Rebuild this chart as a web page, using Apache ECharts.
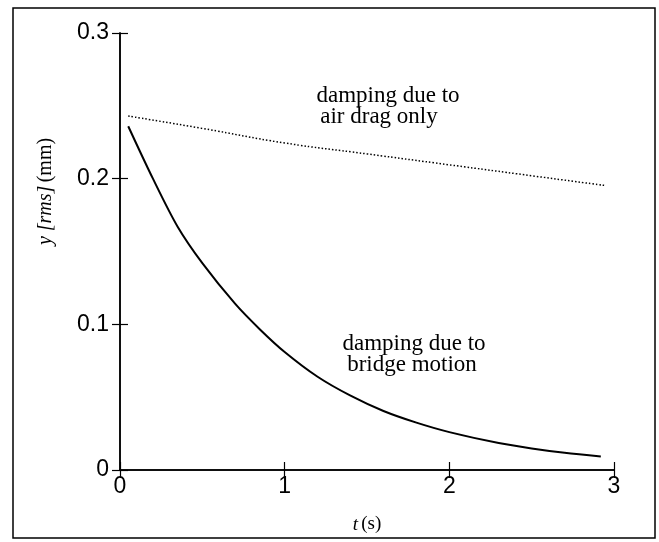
<!DOCTYPE html>
<html>
<head>
<meta charset="utf-8">
<script src="https://cdn.jsdelivr.net/npm/echarts@6/dist/echarts.min.js"></script>
<style>
html,body{margin:0;padding:0;background:#fff;}
#c{width:659px;height:542px;}
</style>
</head>
<body>
<div id="c"></div>
<script>
// time (s) and rms amplitude (mm)
var airT = [0.05, 0.5, 1.0, 1.5, 2.0, 2.5, 2.94];
var airY = [0.243, 0.2345, 0.2245, 0.217, 0.2095, 0.202, 0.1954];

var bridgeT = [0.05, 0.2, 0.35, 0.5, 0.7, 0.85, 1.0, 1.2, 1.4, 1.6, 1.8, 2.0, 2.3, 2.5, 2.7, 2.92];
var bridgeY = [0.236, 0.2, 0.167, 0.142, 0.114, 0.0965, 0.081, 0.064, 0.051, 0.0405, 0.0325, 0.026, 0.0185, 0.0148, 0.0118, 0.0092];

var xTicks = [0, 1, 2, 3];
var yTicks = [0, 0.1, 0.2, 0.3];

function pairs(xs, ys){ return xs.map(function(x,i){ return [x, ys[i]]; }); }

var chart = echarts.init(document.getElementById('c'));
var axisLineStyle = {color:'#000', width:1.5};
var sans = '"Liberation Sans", Arial, sans-serif';
var serif = '"Liberation Serif", "Times New Roman", serif';
var tickStyle = {show:true, inside:true, length:8, lineStyle:{color:'#000', width:1.2}};

chart.setOption({
  animation:false,
  backgroundColor:'#fff',
  grid:{left:120, right:45, top:33, bottom:72},
  xAxis:[{
    type:'value', min:xTicks[0], max:xTicks[xTicks.length-1], interval:1,
    position:'bottom',
    axisLine:{show:true, lineStyle:axisLineStyle},
    axisTick:tickStyle,
    axisLabel:{color:'#000', fontFamily:sans, fontSize:23, margin:5},
    splitLine:{show:false},
    name:'{i|t} {n|(s)}', nameLocation:'middle', nameGap:45,
    nameTextStyle:{rich:{
      i:{fontFamily:serif, fontStyle:'italic', fontSize:19, color:'#000'},
      n:{fontFamily:serif, fontSize:19, color:'#000'}
    }}
  },{
    type:'value', min:xTicks[0], max:xTicks[xTicks.length-1], interval:1,
    position:'top',
    axisLine:{show:true, lineStyle:axisLineStyle},
    axisTick:tickStyle,
    axisLabel:{show:false}, splitLine:{show:false}
  }],
  yAxis:[{
    type:'value', min:yTicks[0], max:yTicks[yTicks.length-1], interval:0.1,
    position:'left',
    axisLine:{show:true, lineStyle:axisLineStyle},
    axisTick:tickStyle,
    axisLabel:{color:'#000', fontFamily:sans, fontSize:23, margin:11},
    splitLine:{show:false},
    name:'{i|y [rms]} {n|(mm)}', nameLocation:'middle', nameGap:64, nameRotate:90,
    nameTextStyle:{padding:[0,0,0,120], rich:{
      i:{fontFamily:serif, fontStyle:'italic', fontSize:20, color:'#000'},
      n:{fontFamily:serif, fontSize:20, color:'#000'}
    }}
  },{
    type:'value', min:yTicks[0], max:yTicks[yTicks.length-1], interval:0.1,
    position:'right',
    axisLine:{show:true, lineStyle:axisLineStyle},
    axisTick:tickStyle,
    axisLabel:{show:false}, splitLine:{show:false}
  }],
  series:[{
    name:'air drag only', type:'line', smooth:true, showSymbol:false,
    data:pairs(airT, airY),
    lineStyle:{color:'#000', width:1.5, type:[1.5,2]}
  },{
    name:'bridge motion', type:'line', smooth:0.3, showSymbol:false,
    data:pairs(bridgeT, bridgeY),
    lineStyle:{color:'#000', width:2}
  }],
  graphic:[
    {type:'rect', shape:{x:13, y:8, width:642, height:530}, style:{fill:'none', stroke:'#000', lineWidth:1.5}, silent:true},
    {type:'text', x:388, y:96, style:{text:'damping due to', font:'23px '+serif, fill:'#000', textAlign:'center', textVerticalAlign:'middle'}},
    {type:'text', x:379, y:117, style:{text:'air drag only', font:'23px '+serif, fill:'#000', textAlign:'center', textVerticalAlign:'middle'}},
    {type:'text', x:414, y:344, style:{text:'damping due to', font:'23px '+serif, fill:'#000', textAlign:'center', textVerticalAlign:'middle'}},
    {type:'text', x:412, y:365, style:{text:'bridge motion', font:'23px '+serif, fill:'#000', textAlign:'center', textVerticalAlign:'middle'}}
  ]
});
</script>
</body>
</html>
